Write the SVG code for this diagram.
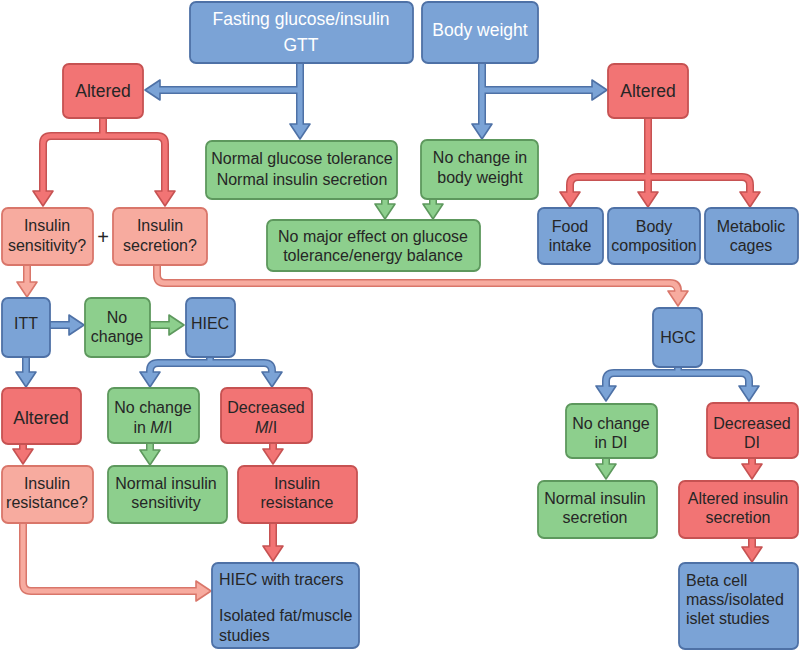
<svg xmlns="http://www.w3.org/2000/svg" xmlns:xlink="http://www.w3.org/1999/xlink" width="800" height="651" viewBox="0 0 800 651">
<style>
text{font-family:"Liberation Sans",Arial,sans-serif;font-size:16px;fill:#262626;text-anchor:middle}
.w{fill:#ffffff;font-size:17.5px}
.big{font-size:17.5px}
.l{text-anchor:start}
rect{stroke-width:1.8;rx:6;ry:6}
.nb{fill:#7ba3d6;stroke:#4e71a6}
.nr{fill:#f27474;stroke:#c65252}
.np{fill:#f7ab9f;stroke:#d9766a}
.ng{fill:#8dcf8d;stroke:#5d985d}
.s{fill:none;stroke-linejoin:round;stroke-linecap:butt}
.bo{stroke:#4e71a6;stroke-width:8}
.bi{stroke:#7ba3d6;stroke-width:5}
.bh{fill:#7ba3d6;stroke:#4e71a6;stroke-width:1.6;stroke-linejoin:round}
.ro{stroke:#c65252;stroke-width:8}
.ri{stroke:#f27474;stroke-width:5}
.rh{fill:#f27474;stroke:#c65252;stroke-width:1.6;stroke-linejoin:round}
.po{stroke:#d9766a;stroke-width:8}
.pi{stroke:#f7ab9f;stroke-width:5}
.ph{fill:#f7ab9f;stroke:#d9766a;stroke-width:1.6;stroke-linejoin:round}
.go{stroke:#5d985d;stroke-width:8}
.gi{stroke:#8dcf8d;stroke-width:5}
.gh{fill:#8dcf8d;stroke:#5d985d;stroke-width:1.6;stroke-linejoin:round}
</style>
<defs>
<path id="hd" d="M-10,-15 L10,-15 L0,0 Z"/>
</defs>

<g id="connectors">
<!-- blue -->
<g id="blue-arrows">
<path class="s bo" d="M300,63 V124 M300,90 H160 M482,63 V124 M482,90 H592 M50,325 H70 M26,357 V373 M210,357 V363 M150,372 V371 Q150,363 158,363 H264 Q272,363 272,371 V372 M678,367 V373 M606,386 V381 Q606,373 614,373 H741 Q749,373 749,381 V386"/>
<use xlink:href="#hd" href="#hd" class="bh" transform="translate(300,139)"/>
<use xlink:href="#hd" href="#hd" class="bh" transform="translate(145,90) rotate(90)"/>
<use xlink:href="#hd" href="#hd" class="bh" transform="translate(482,139)"/>
<use xlink:href="#hd" href="#hd" class="bh" transform="translate(607,90) rotate(-90)"/>
<use xlink:href="#hd" href="#hd" class="bh" transform="translate(84,325) rotate(-90)"/>
<use xlink:href="#hd" href="#hd" class="bh" transform="translate(26,387)"/>
<use xlink:href="#hd" href="#hd" class="bh" transform="translate(150,387)"/>
<use xlink:href="#hd" href="#hd" class="bh" transform="translate(272,387)"/>
<use xlink:href="#hd" href="#hd" class="bh" transform="translate(606,401)"/>
<use xlink:href="#hd" href="#hd" class="bh" transform="translate(749,401)"/>
<path class="s bi" d="M300,62 V126 M300,90 H158 M482,62 V126 M482,90 H594 M49,325 H72 M26,356 V375 M210,356 V363 M150,374 V371 Q150,363 158,363 H264 Q272,363 272,371 V374 M678,366 V373 M606,388 V381 Q606,373 614,373 H741 Q749,373 749,381 V388"/>
</g>
<!-- green -->
<g id="green-arrows">
<path class="s go" d="M150,325 H170 M385,199 V205 M433,199 V205 M150,443 V451 M606,458 V464"/>
<use xlink:href="#hd" href="#hd" class="gh" transform="translate(184,325) rotate(-90)"/>
<use xlink:href="#hd" href="#hd" class="gh" transform="translate(385,219)"/>
<use xlink:href="#hd" href="#hd" class="gh" transform="translate(433,219)"/>
<use xlink:href="#hd" href="#hd" class="gh" transform="translate(150,465)"/>
<use xlink:href="#hd" href="#hd" class="gh" transform="translate(606,479)"/>
<path class="s gi" d="M149,325 H172 M385,198 V206 M433,198 V206 M150,442 V452 M606,457 V466"/>
</g>
<!-- red -->
<g id="red-arrows">
<path class="s ro" d="M103,118 V136 M43,191 V144 Q43,136 51,136 H157 Q165,136 165,144 V191 M648,118 V177 M570,192 V185 Q570,177 578,177 H742 Q750,177 750,185 V192 M648,177 V192 M23,444 V449 M273,443 V449 M273,523 V546 M752,458 V464 M752,538 V547"/>
<use xlink:href="#hd" href="#hd" class="rh" transform="translate(43,206)"/>
<use xlink:href="#hd" href="#hd" class="rh" transform="translate(165,206)"/>
<use xlink:href="#hd" href="#hd" class="rh" transform="translate(570,207)"/>
<use xlink:href="#hd" href="#hd" class="rh" transform="translate(648,207)"/>
<use xlink:href="#hd" href="#hd" class="rh" transform="translate(750,207)"/>
<use xlink:href="#hd" href="#hd" class="rh" transform="translate(23,464)"/>
<use xlink:href="#hd" href="#hd" class="rh" transform="translate(273,464)"/>
<use xlink:href="#hd" href="#hd" class="rh" transform="translate(273,561)"/>
<use xlink:href="#hd" href="#hd" class="rh" transform="translate(752,479)"/>
<use xlink:href="#hd" href="#hd" class="rh" transform="translate(752,562)"/>
<path class="s ri" d="M103,117 V136 M43,193 V144 Q43,136 51,136 H157 Q165,136 165,144 V193 M648,117 V177 M570,194 V185 Q570,177 578,177 H742 Q750,177 750,185 V194 M648,177 V194 M23,443 V451 M273,442 V451 M273,522 V548 M752,457 V466 M752,537 V549"/>
</g>
<!-- light red -->
<g id="pink-arrows">
<path class="s po" d="M27,265 V282 M157,265 V275 Q157,283 165,283 H670 Q678,283 678,291 M23,523 V583 Q23,591 31,591 H196"/>
<use xlink:href="#hd" href="#hd" class="ph" transform="translate(27,297)"/>
<use xlink:href="#hd" href="#hd" class="ph" transform="translate(678,306)"/>
<use xlink:href="#hd" href="#hd" class="ph" transform="translate(211,591) rotate(-90)"/>
<path class="s pi" d="M27,264 V284 M157,264 V275 Q157,283 165,283 H670 Q678,283 678,293 M23,522 V583 Q23,591 31,591 H198"/>
</g>
</g>

<g id="fasting"><rect class="nb" x="190" y="2" width="223" height="61"/><text class="w" x="301" y="25">Fasting glucose/insulin</text><text class="w" x="301" y="51">GTT</text></g>
<g id="bodyweight"><rect class="nb" x="422" y="2" width="116" height="61"/><text class="w" x="480" y="36">Body weight</text></g>
<g id="altered-left"><rect class="nr" x="63" y="64" width="80" height="54"/><text class="big" x="103" y="97">Altered</text></g>
<g id="altered-right"><rect class="nr" x="608" y="64" width="80" height="54"/><text class="big" x="648" y="97">Altered</text></g>
<g id="normal-glucose"><rect class="ng" x="206" y="141" width="191" height="58"/><text x="302" y="164">Normal glucose tolerance</text><text x="302" y="185">Normal insulin secretion</text></g>
<g id="no-change-bw"><rect class="ng" x="421" y="140" width="117" height="59"/><text x="480" y="163">No change in</text><text x="480" y="183">body weight</text></g>
<g id="no-major"><rect class="ng" x="267" y="220" width="213" height="51"/><text x="373" y="242">No major effect on glucose</text><text x="373" y="261">tolerance/energy balance</text></g>
<g id="food"><rect class="nb" x="538" y="208" width="65" height="56"/><text x="570" y="232">Food</text><text x="570" y="251">intake</text></g>
<g id="bodycomp"><rect class="nb" x="608" y="208" width="92" height="56"/><text x="654" y="232">Body</text><text x="654" y="251">composition</text></g>
<g id="metabolic"><rect class="nb" x="705" y="208" width="93" height="56"/><text x="751" y="232">Metabolic</text><text x="751" y="251">cages</text></g>
<g id="ins-sens"><rect class="np" x="2" y="208" width="91" height="57"/><text x="47" y="231">Insulin</text><text x="47" y="251">sensitivity?</text></g>
<g id="plus"><text x="103" y="244" style="font-size:20px">+</text></g>
<g id="ins-sec"><rect class="np" x="113" y="208" width="94" height="57"/><text x="160" y="231">Insulin</text><text x="160" y="251">secretion?</text></g>
<g id="itt"><rect class="nb" x="2" y="298" width="48" height="59"/><text x="26" y="329">ITT</text></g>
<g id="no-change"><rect class="ng" x="85" y="298" width="65" height="59"/><text x="117" y="323">No</text><text x="117" y="342">change</text></g>
<g id="hiec"><rect class="nb" x="186" y="298" width="49" height="59"/><text x="210" y="329">HIEC</text></g>
<g id="hgc"><rect class="nb" x="653" y="308" width="49" height="59"/><text x="678" y="343">HGC</text></g>
<g id="altered-ll"><rect class="nr" x="2" y="388" width="79" height="56"/><text class="big" x="41" y="424">Altered</text></g>
<g id="nc-mi"><rect class="ng" x="108" y="388" width="91" height="55"/><text x="153" y="413">No change</text><text x="153" y="433">in <tspan font-style="italic">M</tspan>/I</text></g>
<g id="dec-mi"><rect class="nr" x="221" y="388" width="91" height="55"/><text x="266" y="413">Decreased</text><text x="266" y="433"><tspan font-style="italic">M</tspan>/I</text></g>
<g id="ins-res-q"><rect class="np" x="2" y="466" width="91" height="57"/><text x="47" y="489">Insulin</text><text x="47" y="508">resistance?</text></g>
<g id="norm-ins-sens"><rect class="ng" x="108" y="466" width="119" height="57"/><text x="166" y="489">Normal insulin</text><text x="166" y="508">sensitivity</text></g>
<g id="ins-res"><rect class="nr" x="238" y="466" width="119" height="57"/><text x="297" y="489">Insulin</text><text x="297" y="508">resistance</text></g>
<g id="hiec-tracers"><rect class="nb" x="212" y="563" width="147" height="85"/><text class="l" x="219" y="585">HIEC with tracers</text><text class="l" x="219" y="621">Isolated fat/muscle</text><text class="l" x="219" y="641">studies</text></g>
<g id="nc-di"><rect class="ng" x="566" y="404" width="91" height="54"/><text x="611" y="429">No change</text><text x="611" y="448">in DI</text></g>
<g id="dec-di"><rect class="nr" x="707" y="403" width="91" height="55"/><text x="752" y="429">Decreased</text><text x="752" y="448">DI</text></g>
<g id="norm-ins-sec"><rect class="ng" x="538" y="481" width="119" height="57"/><text x="595" y="504">Normal insulin</text><text x="595" y="523">secretion</text></g>
<g id="alt-ins-sec"><rect class="nr" x="679" y="481" width="119" height="57"/><text x="738" y="504">Altered insulin</text><text x="738" y="523">secretion</text></g>
<g id="beta"><rect class="nb" x="679" y="563" width="119" height="86"/><text class="l" x="686" y="586">Beta cell</text><text class="l" x="686" y="605">mass/isolated</text><text class="l" x="686" y="624">islet studies</text></g>
</svg>
